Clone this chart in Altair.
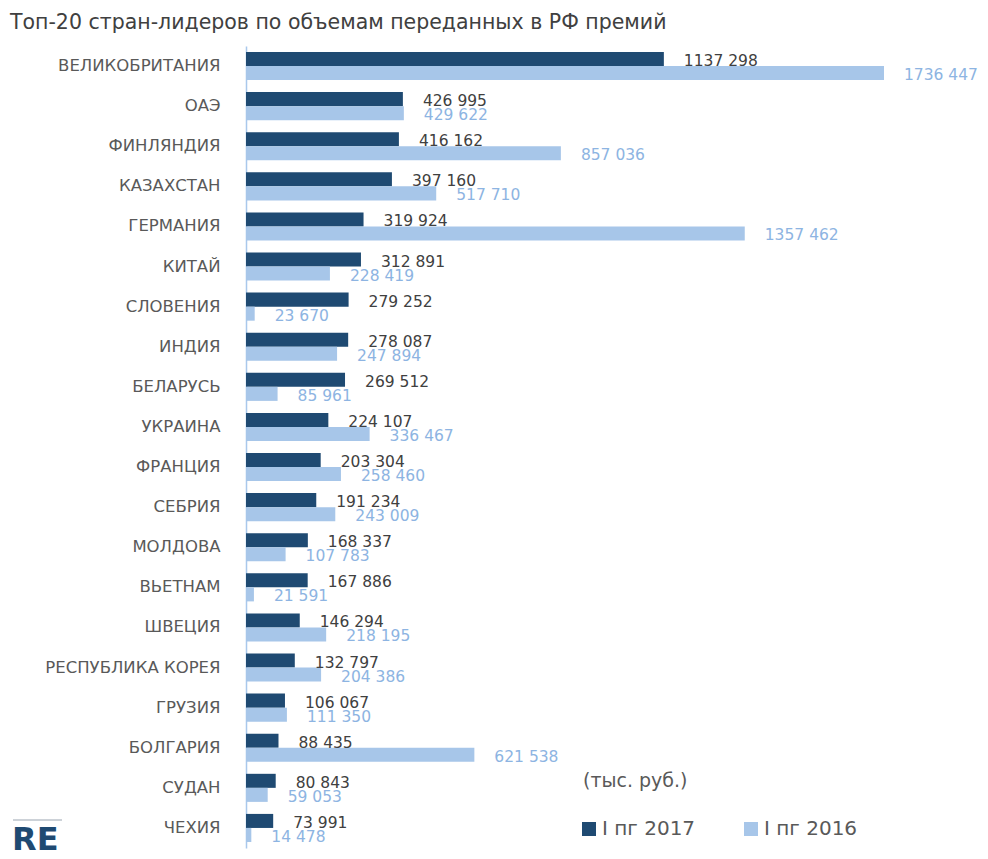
import altair as alt
import pandas as pd

countries = ["ВЕЛИКОБРИТАНИЯ", "ОАЭ", "ФИНЛЯНДИЯ", "КАЗАХСТАН", "ГЕРМАНИЯ", "КИТАЙ",
             "СЛОВЕНИЯ", "ИНДИЯ", "БЕЛАРУСЬ", "УКРАИНА", "ФРАНЦИЯ", "СЕБРИЯ", "МОЛДОВА",
             "ВЬЕТНАМ", "ШВЕЦИЯ", "РЕСПУБЛИКА КОРЕЯ", "ГРУЗИЯ", "БОЛГАРИЯ", "СУДАН", "ЧЕХИЯ"]
v2017 = [1137298, 426995, 416162, 397160, 319924, 312891, 279252, 278087, 269512, 224107,
         203304, 191234, 168337, 167886, 146294, 132797, 106067, 88435, 80843, 73991]
v2016 = [1736447, 429622, 857036, 517710, 1357462, 228419, 23670, 247894, 85961, 336467,
         258460, 243009, 107783, 21591, 218195, 204386, 111350, 621538, 59053, 14478]
series = ["I пг 2017", "I пг 2016"]
title_text = "Топ-20 стран-лидеров по объемам переданных в РФ премий"
unit_text = "(тыс. руб.)"

DARK = "#1f4a72"
LIGHT = "#a7c6e9"
FONT = "DejaVu Sans"


def fmt(v):
    return f"{v // 1000} {v % 1000:03d}"


rows = []
for c, a, b in zip(countries, v2017, v2016):
    rows.append({"country": c, "series": series[0], "value": a, "label": fmt(a)})
    rows.append({"country": c, "series": series[1], "value": b, "label": fmt(b)})
df = pd.DataFrame(rows)

W, H = 638, 802
xscale = alt.Scale(domain=[0, 1736447], nice=False, zero=True)
yenc = alt.Y("country:N", sort=countries,
             scale=alt.Scale(paddingInner=0.3, paddingOuter=0.15),
             axis=alt.Axis(title=None, ticks=False, labelPadding=26, labelFontSize=16.5,
                           labelFont=FONT, labelColor="#595959", domainColor="#a9c8ec",
                           domainWidth=1.5, labelLimit=300))
yoff = alt.YOffset("series:N", sort=series, scale=alt.Scale(paddingInner=0, paddingOuter=0))

base = alt.Chart(df)

bars = base.mark_bar().encode(
    y=yenc,
    yOffset=yoff,
    x=alt.X("value:Q", scale=xscale, axis=None),
    color=alt.Color("series:N", sort=series,
                    scale=alt.Scale(domain=series, range=[DARK, LIGHT]),
                    legend=alt.Legend(title=None, orient="none", legendX=333, legendY=773,
                                      direction="horizontal", symbolType="square",
                                      symbolSize=196, symbolStrokeWidth=0,
                                      labelFontSize=20, labelFont=FONT,
                                      labelColor="#595959", columnPadding=45,
                                      labelOffset=3)),
)

txt17 = base.transform_filter(alt.datum.series == series[0]).mark_text(
    align="left", baseline="middle", dx=20, dy=2, fontSize=15.5, font=FONT, color="#404040"
).encode(y=alt.Y("country:N", sort=countries), yOffset=yoff,
         x=alt.X("value:Q", scale=xscale), text="label:N")

txt16 = base.transform_filter(alt.datum.series == series[1]).mark_text(
    align="left", baseline="middle", dx=20, dy=2, fontSize=15.5, font=FONT, color="#8db4e2"
).encode(y=alt.Y("country:N", sort=countries), yOffset=yoff,
         x=alt.X("value:Q", scale=xscale), text="label:N")

ann = pd.DataFrame({"t": [title_text]})
title = alt.Chart(ann).mark_text(align="left", baseline="middle", fontSize=20.5, font=FONT,
                                 color="#404040").encode(
    x=alt.value(-236), y=alt.value(-23), text="t:N")

unit = alt.Chart(pd.DataFrame({"t": [unit_text]})).mark_text(
    align="left", baseline="middle", fontSize=19, font=FONT, color="#595959").encode(
    x=alt.value(337), y=alt.value(735), text="t:N")

logo = alt.Chart(pd.DataFrame({"t": ["RE"]})).mark_text(
    align="left", baseline="middle", fontSize=32, font=FONT, fontWeight="bold",
    color=DARK).encode(x=alt.value(-234), y=alt.value(794), text="t:N")
logo_line = alt.Chart(pd.DataFrame({"t": ["RE"]})).mark_rule(color="#9aa5b1", strokeWidth=1).encode(
    x=alt.value(-233), x2=alt.value(-184), y=alt.value(774))

chart = alt.layer(bars, txt17, txt16, title, unit, logo, logo_line).properties(
    width=W, height=H,
    autosize=alt.AutoSizeParams(type="none"),
    padding={"left": 238, "top": 38, "right": 96, "bottom": 11},
    background="white",
).configure_view(strokeWidth=0)

chart.save("out.html", embed_options={"renderer": "svg", "actions": False})
